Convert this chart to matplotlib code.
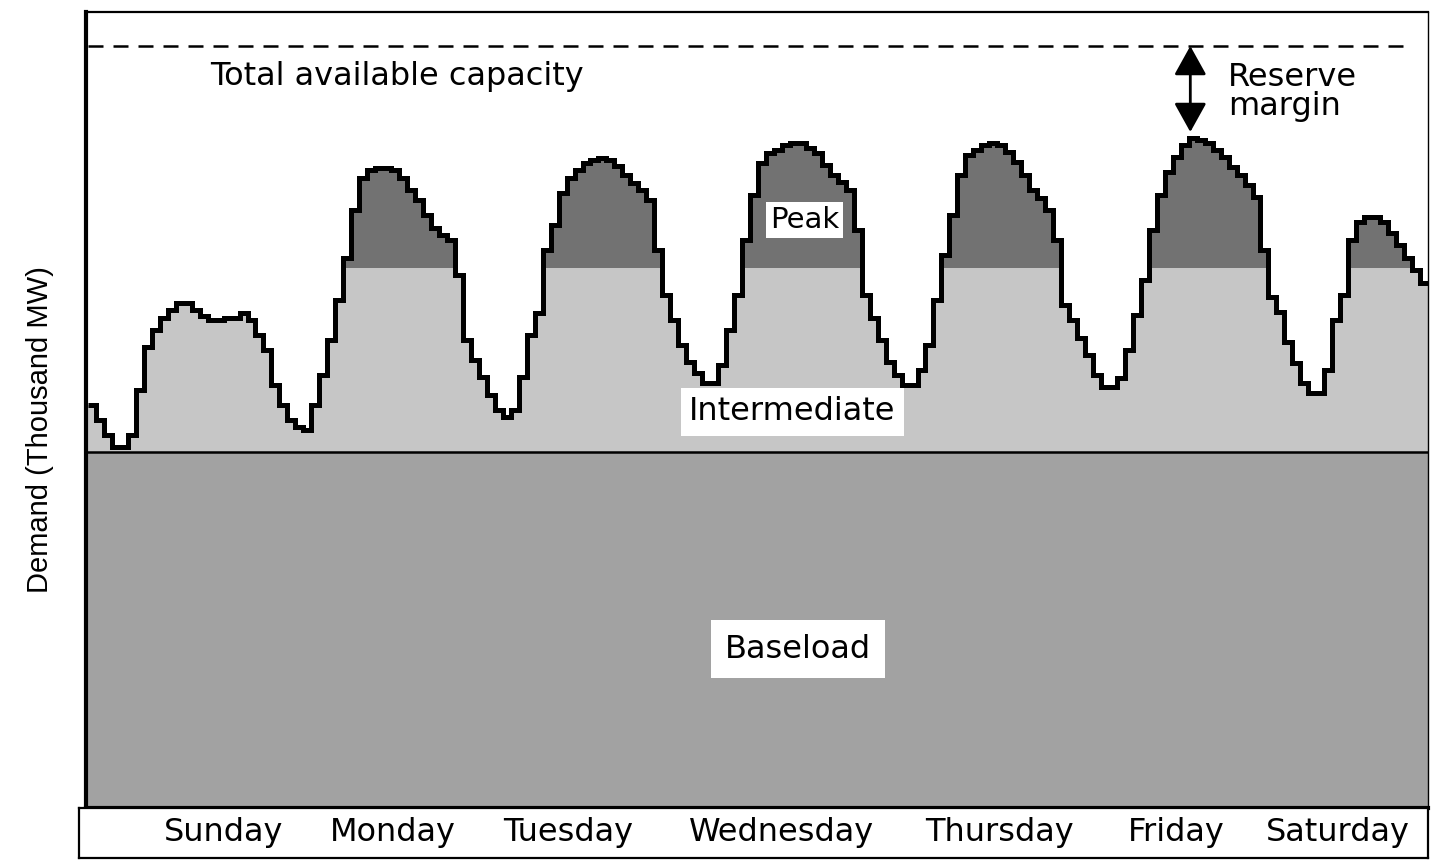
import numpy as np
import matplotlib
matplotlib.use("Agg")
import matplotlib.pyplot as plt

# ---------------- data ----------------
days = ["Sunday", "Monday", "Tuesday", "Wednesday", "Thursday", "Friday", "Saturday"]
# hourly demand over the week (thousand MW)
demand = [
    40.3, 38.8, 37.3, 36.1, 36.1, 37.3, 41.8, 46.1, 47.8, 49.0, 49.8, 50.5,
    50.5, 49.8, 49.2, 48.8, 48.8, 49.0, 49.0, 49.5, 48.8, 47.3, 45.8, 42.3,
    40.3, 38.8, 38.1, 37.8, 40.3, 43.3, 46.8, 50.8, 55.0, 59.8, 63.0, 63.8,
    64.0, 64.0, 63.8, 63.0, 61.8, 60.8, 59.3, 58.0, 57.3, 56.8, 53.3, 46.8,
    44.8, 43.1, 41.3, 39.8, 39.1, 39.8, 43.1, 47.3, 49.5, 55.8, 58.3, 61.5,
    63.0, 63.8, 64.5, 64.8, 65.0, 64.8, 64.2, 63.3, 62.5, 61.8, 60.8, 55.8,
    51.3, 48.8, 46.3, 44.6, 43.5, 42.5, 42.5, 44.3, 47.8, 51.3, 56.8, 61.3,
    64.5, 65.5, 65.8, 66.3, 66.5, 66.5, 66.0, 65.5, 64.3, 63.3, 62.6, 61.8,
    57.8, 51.3, 49.0, 46.8, 44.6, 43.3, 42.3, 42.3, 43.8, 46.3, 50.8, 55.3,
    59.3, 63.3, 65.3, 65.8, 66.3, 66.5, 66.3, 65.6, 64.6, 63.3, 61.8, 61.0,
    59.8, 56.8, 50.3, 48.8, 47.0, 45.3, 43.3, 42.1, 42.1, 43.0, 45.8, 49.3,
    52.8, 57.8, 61.3, 63.6, 65.1, 66.3, 67.0, 66.8, 66.5, 65.8, 65.1, 64.1,
    63.3, 62.3, 61.1, 55.8, 51.1, 49.6, 46.6, 44.5, 42.5, 41.5, 41.5, 43.8,
    48.8, 51.3, 56.8, 58.6, 59.1, 59.1, 58.6, 57.5, 56.3, 55.0, 53.8, 52.5,
]
baseload_level = 35.6
peak_level = 54.0
capacity_level = 76.2

# ---------------- layout ----------------
W, H = 1432, 865
fig = plt.figure(figsize=(W / 100, H / 100), dpi=100)
fig.patch.set_facecolor("white")

FONT = ["DejaVu Sans"]
NARROW = ["Liberation Sans Narrow", "Liberation Sans", "DejaVu Sans"]

ax_left_px, ax_right_px, ax_top_px, ax_bot_px = 86, 1428, 12, 808
ax = fig.add_axes([ax_left_px / W, (H - ax_bot_px) / H,
                   (ax_right_px - ax_left_px) / W, (ax_bot_px - ax_top_px) / H])

n = len(demand)
edges = np.arange(n + 1)
vals = np.asarray(demand, dtype=float)
vals_ext = np.append(vals, vals[-1])

c_base = "#a2a2a2"
c_inter = "#c6c6c6"
c_peak = "#727272"

ax.fill_between(edges, 0, baseload_level, color=c_base, lw=0, zorder=1)
ax.fill_between(edges, baseload_level, np.minimum(vals_ext, peak_level),
                step="post", color=c_inter, lw=0, zorder=1)
ax.fill_between(edges, peak_level, np.maximum(vals_ext, peak_level),
                step="post", color=c_peak, lw=0, zorder=1)
ax.stairs(vals, edges, baseline=None, color="black", lw=3.6, zorder=3)
ax.axhline(baseload_level, color="black", lw=1.8, zorder=3)

# capacity dashed line
ax.plot([0, 166], [capacity_level, capacity_level], color="black", lw=1.8,
        dashes=(6, 4), zorder=3)

ax.set_xlim(-0.25, 168)
ax.set_ylim(0, 79.6)
ax.set_xticks([])
ax.set_yticks([])
for side, lw in [("left", 3.0), ("top", 1.6), ("right", 1.0), ("bottom", 3.0)]:
    ax.spines[side].set_linewidth(lw)
    ax.spines[side].set_color("black")

# texts
ax.text(15.3, 73.2, "Total available capacity", fontsize=23, family=FONT,
        ha="left", va="center", zorder=5)
ax.text(142.9, 71.6, "Reserve\nmargin", fontsize=23, family=FONT,
        ha="left", va="center", linespacing=0.95, zorder=5)
ax.annotate("", xy=(138.2, 67.6), xytext=(138.2, capacity_level),
            arrowprops=dict(arrowstyle="<|-|>,head_length=0.9,head_width=0.5",
                            mutation_scale=20,
                            color="black", lw=2, shrinkA=0, shrinkB=0), zorder=5)
ax.text(89.8, 58.8, "Peak", fontsize=21, family=FONT, ha="center", va="center",
        bbox=dict(facecolor="white", edgecolor="none", pad=3), zorder=5)
ax.text(88.3, 39.6, "Intermediate", fontsize=23, family=FONT, ha="center",
        va="center", bbox=dict(facecolor="white", edgecolor="none", pad=6), zorder=5)
ax.text(89.0, 15.9, "Baseload", fontsize=23, family=FONT, ha="center",
        va="center", bbox=dict(facecolor="white", edgecolor="none", pad=10), zorder=5)

# y label
fig.text(40 / W, 1 - 430 / H, "Demand (Thousand MW)", rotation=90, fontsize=21,
         family=NARROW, ha="center", va="center")

# bottom day box
bl, br, bt, bb = 79, 1428, 808, 858
axd = fig.add_axes([bl / W, (H - bb) / H, (br - bl) / W, (bb - bt) / H])
hour_px = (ax_right_px - ax_left_px) / 168.25
axd.set_xlim(-0.25 - (ax_left_px - bl) / hour_px, 168)
axd.set_ylim(0, 1)
axd.set_xticks([])
axd.set_yticks([])
for s in axd.spines.values():
    s.set_linewidth(1.6)
day_label_hours = [17.05, 38.2, 60.2, 87.0, 114.3, 136.5, 156.7]
for d, hx in zip(days, day_label_hours):
    axd.text(hx, 0.5, d, fontsize=23, family=FONT, ha="center", va="center")

fig.savefig("out.png", dpi=100)
